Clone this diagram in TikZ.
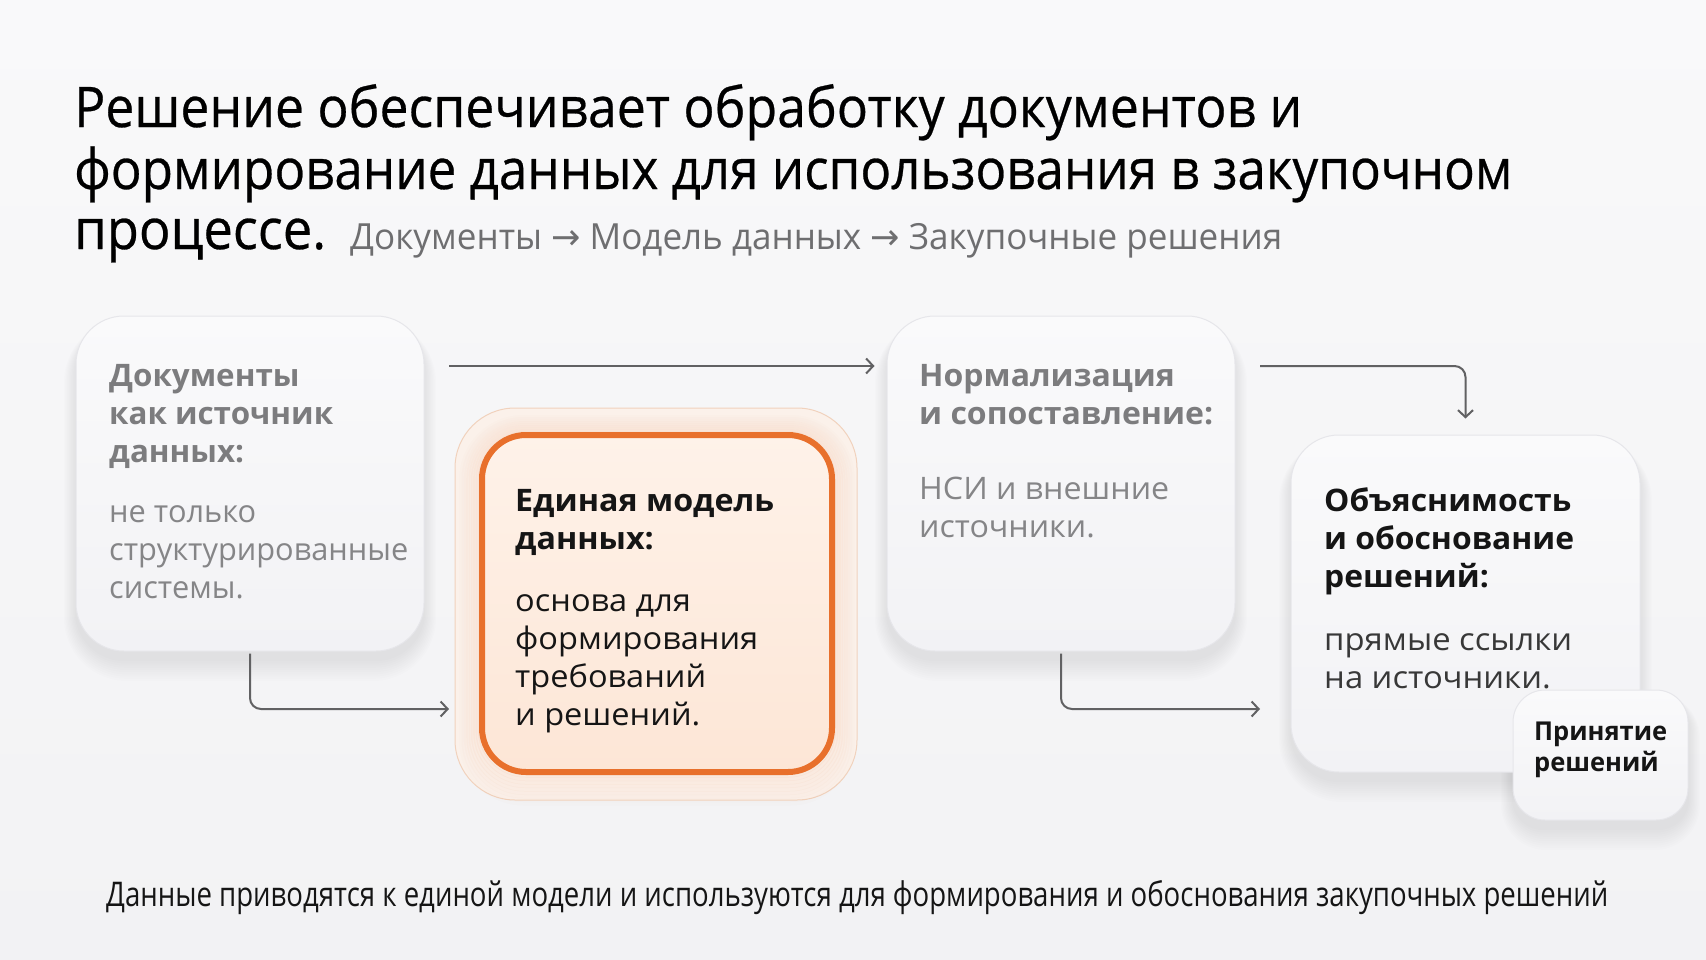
\documentclass[tikz,border=0pt]{standalone}
\usepackage{fontspec}
\setmainfont{Open Sans}
\newfontfamily\arrowfont{DejaVu Sans}
\usetikzlibrary{arrows.meta,calc}
\definecolor{bgtop}{HTML}{F9F9FA}
\definecolor{bgbot}{HTML}{F2F2F4}
\definecolor{cardtop}{HTML}{FAFAFB}
\definecolor{cardbot}{HTML}{F2F2F5}
\definecolor{cardline}{HTML}{E6E6EA}
\definecolor{graytxt}{HTML}{7C7C7E}
\definecolor{graybody}{HTML}{858587}
\definecolor{darktxt}{HTML}{151515}
\definecolor{subgray}{HTML}{6E6E70}
\definecolor{orng}{HTML}{E8702C}
\definecolor{peachtop}{HTML}{FEF2E9}
\definecolor{peachbot}{HTML}{FDE6D6}
\definecolor{glowfill}{HTML}{FBF1EA}
\definecolor{glowline}{HTML}{F1D2BD}
\definecolor{arrowc}{HTML}{616163}
\newcommand{\fitw}[2]{\resizebox{#1}{\height}{#2}}
\newcommand{\blockl}[1]{\vtop{\baselineskip=38pt\relax #1}}
\newcommand{\softshadow}[3]{%
  \foreach \k in {1,...,10}{%
    \pgfmathsetmacro\rr{#3+\k*1.5}%
    \fill[black, opacity=0.008, rounded corners=\rr pt]
      ($(#1)+(-\k*1.2,8-\k*0.5)$) rectangle ($(#2)+(\k*1.2,8+\k*2.2)$);
  }}
\begin{document}
\begin{tikzpicture}[x=1pt,y=-1pt,
  txt/.style={inner sep=0pt, anchor=base west},
  ttl/.style={txt, text=black, font=\fontsize{56}{60}\selectfont\addfontfeature{FakeBold=0.5}},
  sub/.style={txt, text=subgray, font=\fontsize{36}{40}\selectfont},
  hd/.style={txt, font=\bfseries\fontsize{31}{38}\selectfont},
  bd/.style={txt, font=\fontsize{31}{38}\selectfont},
  card/.style={draw=cardline, line width=1pt, top color=cardtop, bottom color=cardbot,
    rounded corners=48pt, inner sep=0pt},
  arr/.style={draw=arrowc, line width=2pt, rounded corners=11pt,
    -{Straight Barb[length=7pt,width=15pt,line width=2pt]}}
]
\useasboundingbox (0,0) rectangle (1706,959);
% background
\shade[top color=bgtop, bottom color=bgbot] (0,0) rectangle (1706,959);

% shadows
\softshadow{76,316}{424,651}{48}
\softshadow{887,316}{1235,651}{48}
\softshadow{1291,435}{1640,772}{48}
\softshadow{1513,690}{1688,820}{30}

% cards
\node[card, minimum width=348pt, minimum height=335pt] (b1) at (250,483.5) {};
\node[card, minimum width=348pt, minimum height=335pt] (b3) at (1061,483.5) {};
\node[draw=glowline, line width=1pt, fill=glowfill, rounded corners=60pt,
  minimum width=402pt, minimum height=392pt, inner sep=0pt] (glow) at (656,604) {};
\foreach \k/\op in {1/0.06,2/0.05,3/0.045,4/0.04,5/0.035,6/0.03,7/0.022,8/0.015,9/0.01} {
  \pgfmathsetmacro\rr{44+\k*2}
  \draw[orng, opacity=\op, line width=4pt, rounded corners=\rr pt]
    ($(482,435)+(-\k*2.3,-\k*2)$) rectangle ($(832,772)+(\k*2.3,\k*3.5)$);
}
\node[draw=orng, line width=6pt, top color=peachtop, bottom color=peachbot,
  rounded corners=44pt, minimum width=350pt, minimum height=337pt, inner sep=0pt] (b2) at (657,603.5) {};
\node[card, minimum width=349pt, minimum height=337pt] (b4) at (1465.5,603.5) {};
\node[card, rounded corners=32pt, minimum width=175pt, minimum height=130pt] (b5) at (1600.5,755) {};

% title
\node[ttl] (t1) at (74,127) {\fitw{1228pt}{Решение обеспечивает обработку документов и}};
\node[ttl] (t2) at (74,189) {\fitw{1438pt}{формирование данных для использования в закупочном}};
\node[ttl] (t3) at (74,249) {\fitw{252pt}{процессе.}};
\node[sub] (t4) at (350,249) {\fitw{932pt}{Документы {\arrowfont →} Модель данных {\arrowfont →} Закупочные решения}};

% card texts
\node[hd, text=graytxt] (h1) at (109,386) {\fitw{224pt}{\blockl{\hbox{Документы}\hbox{как источник}\hbox{данных:}}}};
\node[bd, text=graybody] (d1) at (109,522) {\fitw{299pt}{\blockl{\hbox{не только}\hbox{структурированные}\hbox{системы.}}}};

\node[hd, text=darktxt] (h2) at (515,511) {\fitw{259pt}{\blockl{\hbox{Единая модель}\hbox{данных:}}}};
\node[bd, text=darktxt] (d2) at (515,611) {\fitw{243pt}{\blockl{\hbox{основа для}\hbox{формирования}\hbox{требований}\hbox{и решений.}}}};

\node[hd, text=graytxt] (h3) at (919,386) {\fitw{294pt}{\blockl{\hbox{Нормализация}\hbox{и сопоставление:}}}};
\node[bd, text=graybody] (d3) at (919,499) {\fitw{250pt}{\blockl{\hbox{НСИ и внешние}\hbox{источники.}}}};

\node[hd, text=darktxt] (h4) at (1324,511) {\fitw{250pt}{\blockl{\hbox{Объяснимость}\hbox{и обоснование}\hbox{решений:}}}};
\node[bd, text=darktxt!85] (d4) at (1324,650) {\fitw{248pt}{\blockl{\hbox{прямые ссылки}\hbox{на источники.}}}};

\node[txt, text=darktxt, font=\bfseries\fontsize{26}{31}\selectfont] (h5) at (1534,740)
  {\fitw{133pt}{\vtop{\baselineskip=31pt\relax\hbox{Принятие}\hbox{решений}}}};

% connectors
\coordinate (a1s) at (449,366);
\coordinate (a2e) at (449,709);
\coordinate (a3s) at (1260,366);
\coordinate (a4e) at (1260,709);
\draw[arr] (a1s) -- ([xshift=-12pt]b3.west |- a1s);
\draw[arr] ([yshift=-2pt]b1.south) |- (a2e);
\draw[arr] (a3s) -| ([yshift=16pt]b4.north);
\draw[arr] ([yshift=-2pt]b3.south) |- (a4e);

% bottom line
\node[txt, text=darktxt, font=\fontsize{34}{40}\selectfont] (bt) at (106,906)
  {\fitw{1502pt}{Данные приводятся к единой модели и используются для формирования и обоснования закупочных решений}};
\end{tikzpicture}
\end{document}
